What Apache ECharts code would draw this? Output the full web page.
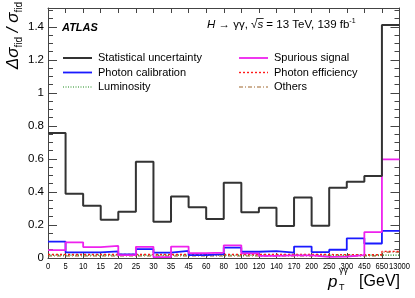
<!DOCTYPE html>
<html><head><meta charset="utf-8">
<script src="https://cdn.jsdelivr.net/npm/echarts@6/dist/echarts.min.js"></script>
<style>html,body{margin:0;padding:0;background:#fff}#c{width:415px;height:298px}</style>
</head><body><div id="c"></div>
<script>
var edges = ['0','5','10','15','20','25','30','35','45','60','80','100','120','140','170','200','250','300','450','650','13000'];
var yTicks = [0, 0.2, 0.4, 0.6, 0.8, 1.0, 1.2, 1.4];
var statUnc   = [0.758,0.390,0.317,0.232,0.280,0.584,0.220,0.372,0.307,0.236,0.456,0.277,0.305,0.194,0.366,0.196,0.426,0.462,0.497,1.412];
var photCalib = [0.099,0.034,0.034,0.040,0.022,0.054,0.032,0.043,0.017,0.024,0.063,0.038,0.042,0.032,0.069,0.036,0.050,0.119,0.088,0.164];
var lumi      = [0.017,0.017,0.017,0.017,0.017,0.017,0.017,0.017,0.017,0.017,0.017,0.017,0.017,0.017,0.017,0.017,0.017,0.017,0.017,0.017];
var spurious  = [0.048,0.095,0.066,0.073,0.017,0.068,0.005,0.069,0.030,0.032,0.077,0.028,0.013,0.016,0.016,0.007,0.008,0.018,0.157,0.598];
var photEff   = [0.021,0.021,0.021,0.021,0.021,0.021,0.021,0.021,0.021,0.021,0.021,0.021,0.021,0.021,0.021,0.021,0.020,0.020,0.020,0.040];
var others    = [0.012,0.012,0.012,0.012,0.012,0.012,0.012,0.012,0.012,0.012,0.012,0.012,0.012,0.012,0.012,0.012,0.012,0.012,0.014,0.035];

function hist(v){ var d=[]; for(var i=0;i<v.length;i++) d.push([i,v[i]]); d.push([v.length,v[v.length-1]]); return d; }
var FONT = '"Liberation Sans", Arial, Helvetica, sans-serif';
var styles = {
  'Statistical uncertainty': {color:'#333333', width:2, dash:null},
  'Photon calibration': {color:'#1a1aff', width:1.8, dash:null},
  'Luminosity': {color:'#1a8a1a', width:1.2, dash:[1,1.5]},
  'Spurious signal': {color:'#ee22ee', width:1.8, dash:null},
  'Photon efficiency': {color:'#ff1a1a', width:1.4, dash:[2,2]},
  'Others': {color:'#a0662d', width:1.2, dash:[4,2,1,2]}
};
function mk(name, vals){
  var s = styles[name];
  return {name:name, type:'line', step:'end', data:hist(vals), symbol:'none', silent:true, animation:false,
    lineStyle:{color:s.color, width:s.width, type:s.dash||'solid'}, itemStyle:{color:s.color}};
}
var legendLeft = ['Statistical uncertainty','Photon calibration','Luminosity'];
var legendRight = ['Spurious signal','Photon efficiency','Others'];
var gfx = [];
function addLegend(names, x0){
  names.forEach(function(n, i){
    var s = styles[n], y = 58 + i*14.5;
    gfx.push({type:'line', shape:{x1:x0, y1:y, x2:x0+29, y2:y}, style:{stroke:s.color, lineWidth:s.width, lineDash:s.dash}});
    gfx.push({type:'text', x:x0+35, y:y, style:{text:n, font:'11px '+FONT, fill:'#000', verticalAlign:'middle'}});
  });
}
addLegend(legendLeft, 63);
addLegend(legendRight, 239);

var cv = document.createElement('canvas').getContext('2d');
cv.font = '11.5px ' + FONT;
var preW = cv.measureText('H \u2192 \u03b3\u03b3, \u221a').width;
cv.font = 'italic 11.5px ' + FONT;
var sW = cv.measureText('s').width;
var tx = 207;

var chart = echarts.init(document.getElementById('c'), null, {renderer:'canvas'});
var axC = '#444';
var nb = edges.length-1;
gfx = gfx.concat([
    {type:'text', x:62, y:28, style:{text:'ATLAS', font:'italic bold 11px '+FONT, fill:'#000', verticalAlign:'middle'}},
    {type:'text', x:tx, y:25, style:{
      text:'{i|H} \u2192 \u03b3\u03b3, \u221a{i|s} = 13 TeV, 139 fb{s|-1}',
      font:'11.5px '+FONT, fill:'#000', verticalAlign:'middle',
      rich:{i:{fontStyle:'italic', fontSize:11.5, fontFamily:FONT}, s:{fontSize:7, fontFamily:FONT, verticalAlign:'top', lineHeight:14}}}},
    {type:'line', shape:{x1:tx+preW-1, y1:18.5, x2:tx+preW+sW+0.5, y2:18.5}, style:{stroke:'#000', lineWidth:0.8}},
    {type:'text', x:13, y:2, rotation:Math.PI/2, style:{
      text:'{b|\u0394\u03c3}{s|fid}{b| / \u03c3}{s|fid}',
      align:'right', verticalAlign:'middle',
      rich:{b:{fontSize:17, fontStyle:'italic', fontFamily:FONT, fill:'#000', lineHeight:22, verticalAlign:'middle'},
            s:{fontSize:10, fontFamily:FONT, fill:'#000', lineHeight:22, verticalAlign:'bottom'}}}},
    {type:'text', x:328, y:282, style:{text:'p', font:'italic 17px '+FONT, fill:'#000', verticalAlign:'middle'}},
    {type:'text', x:339, y:271, style:{text:'\u03b3\u03b3', font:'9px '+FONT, fill:'#000', verticalAlign:'middle'}},
    {type:'text', x:339, y:288, style:{text:'T', font:'9px '+FONT, fill:'#000', verticalAlign:'middle'}},
    {type:'text', x:400, y:282, style:{text:'[GeV]', font:'16px '+FONT, fill:'#000', align:'right', verticalAlign:'middle'}}
]);
chart.setOption({
  animation:false,
  grid:{left:48, right:15.5, top:8, bottom:40},
  xAxis:[
    {type:'value', min:0, max:nb, interval:1, position:'bottom',
     axisLine:{show:true, onZero:false, lineStyle:{color:axC, width:1}},
     axisTick:{show:true, inside:true, length:5, lineStyle:{color:axC}},
     axisLabel:{show:false},
     splitLine:{show:false}},
    {type:'value', min:0, max:nb, interval:1, position:'top',
     axisLine:{show:true, onZero:false, lineStyle:{color:axC, width:1}},
     axisTick:{show:true, inside:true, length:5, lineStyle:{color:axC}},
     axisLabel:{show:false}, splitLine:{show:false}}
  ],
  yAxis:[
    {type:'value', min:0, max:1.515, interval:0.2, position:'left',
     axisLine:{show:true, onZero:false, lineStyle:{color:axC, width:1}},
     axisTick:{show:true, inside:true, length:9, lineStyle:{color:axC}},
     minorTick:{show:true, splitNumber:4, length:5, lineStyle:{color:axC}},
     axisLabel:{fontSize:11.5, fontFamily:FONT, color:'#000', margin:4, showMaxLabel:false,
       formatter:function(v){ for(var i=0;i<yTicks.length;i++){ if(Math.abs(v-yTicks[i])<1e-6) return String(Math.round(yTicks[i]*10)/10);} return ''; }},
     splitLine:{show:false}},
    {type:'value', min:0, max:1.515, interval:0.2, position:'right',
     axisLine:{show:true, onZero:false, lineStyle:{color:axC, width:1}},
     axisTick:{show:true, inside:true, length:9, lineStyle:{color:axC}},
     minorTick:{show:true, splitNumber:4, length:5, lineStyle:{color:axC}},
     axisLabel:{show:false}, splitLine:{show:false}}
  ],
  series:[
    mk('Others', others),
    mk('Luminosity', lumi),
    mk('Photon efficiency', photEff),
    mk('Photon calibration', photCalib),
    mk('Spurious signal', spurious),
    mk('Statistical uncertainty', statUnc)
  ],
  graphic:gfx
});
var xl = [];
var y0 = chart.convertToPixel({yAxisIndex:0}, 0);
edges.forEach(function(e, i){
  var px = chart.convertToPixel({xAxisIndex:0}, i);
  xl.push({type:'text', x:px, y:y0+9, scaleX:0.86, style:{text:e, font:'8.8px '+FONT, fill:'#000', align:'center', verticalAlign:'middle'}});
});
chart.setOption({graphic:gfx.concat(xl)});
</script></body></html>
